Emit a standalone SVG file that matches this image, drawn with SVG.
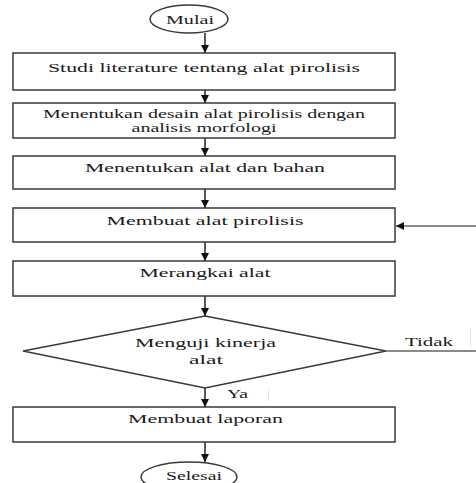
<svg xmlns="http://www.w3.org/2000/svg" width="476" height="483" viewBox="0 0 476 483">
<defs>
<style>
.box{fill:#fff;stroke:#3a3a3a;stroke-width:1.5}
.ln{fill:none;stroke:#222;stroke-width:1.5}
.ln2{fill:none;stroke:#666;stroke-width:1.3}
.faint{fill:none;stroke:#e2e2e2;stroke-width:1}
text{font-family:"Liberation Serif","Times New Roman",serif;font-size:13.5px;fill:#1a1a1a;text-anchor:middle}
</style>
<marker id="ah" viewBox="0 0 10 10" refX="10" refY="5" markerWidth="8" markerHeight="8" markerUnits="userSpaceOnUse" orient="auto">
<path d="M0,0 L10,5 L0,10 z" fill="#111"/>
</marker>
</defs>
<rect width="476" height="483" fill="#fff"/>
<g id="connectors">
<line class="ln" x1="205" y1="33" x2="205" y2="53" marker-end="url(#ah)"/>
<line class="ln" x1="205" y1="90" x2="205" y2="103" marker-end="url(#ah)"/>
<line class="ln" x1="205" y1="138" x2="205" y2="156" marker-end="url(#ah)"/>
<line class="ln" x1="205" y1="189" x2="205" y2="208" marker-end="url(#ah)"/>
<line class="ln" x1="205" y1="242" x2="205" y2="261" marker-end="url(#ah)"/>
<line class="ln" x1="205" y1="296" x2="205" y2="316" marker-end="url(#ah)"/>
<line class="ln" x1="205" y1="388" x2="205" y2="407" marker-end="url(#ah)"/>
<line class="ln" x1="205" y1="442" x2="205" y2="462" marker-end="url(#ah)"/>
<line class="ln2" x1="386" y1="351" x2="476" y2="351"/>
<line class="ln2" x1="476" y1="226" x2="396" y2="226" marker-end="url(#ah)"/>
<text x="429" y="346" textLength="48" lengthAdjust="spacingAndGlyphs">Tidak</text>
<text x="237.5" y="398" textLength="21" lengthAdjust="spacingAndGlyphs">Ya</text>
<line class="faint" x1="470.5" y1="328" x2="470.5" y2="347"/>
<line class="faint" x1="268.5" y1="389" x2="268.5" y2="401"/>
</g>
<g id="mulai">
<ellipse class="box" cx="189" cy="19" rx="39" ry="14"/>
<text x="190" y="24" textLength="48" lengthAdjust="spacingAndGlyphs">Mulai</text>
</g>
<g id="studi">
<rect class="box" x="13" y="53" width="382" height="37"/>
<text x="204" y="72" textLength="312" lengthAdjust="spacingAndGlyphs">Studi literature tentang alat pirolisis</text>
</g>
<g id="desain">
<rect class="box" x="13" y="103" width="382" height="35"/>
<text x="204" y="118" textLength="322" lengthAdjust="spacingAndGlyphs">Menentukan desain alat pirolisis dengan</text>
<text x="204" y="132" textLength="145" lengthAdjust="spacingAndGlyphs">analisis morfologi</text>
</g>
<g id="bahan">
<rect class="box" x="13" y="156" width="382" height="33"/>
<text x="205" y="172" textLength="240" lengthAdjust="spacingAndGlyphs">Menentukan alat dan bahan</text>
</g>
<g id="membuat">
<rect class="box" x="13" y="208" width="382" height="34"/>
<text x="205" y="225" textLength="197" lengthAdjust="spacingAndGlyphs">Membuat alat pirolisis</text>
</g>
<g id="merangkai">
<rect class="box" x="13" y="261" width="382" height="35"/>
<text x="205" y="277" textLength="131" lengthAdjust="spacingAndGlyphs">Merangkai alat</text>
</g>
<g id="menguji">
<polygon class="box" points="205,316 386,351 205,388 23,351"/>
<text x="205.5" y="347" textLength="141" lengthAdjust="spacingAndGlyphs">Menguji kinerja</text>
<text x="206" y="364" textLength="34" lengthAdjust="spacingAndGlyphs">alat</text>
</g>
<g id="laporan">
<rect class="box" x="13" y="407" width="382" height="35"/>
<text x="205.5" y="423" textLength="155" lengthAdjust="spacingAndGlyphs">Membuat laporan</text>
</g>
<g id="selesai">
<ellipse class="box" cx="189" cy="477" rx="48" ry="15"/>
<text x="194" y="480" textLength="56" lengthAdjust="spacingAndGlyphs">Selesai</text>
</g>
</svg>
